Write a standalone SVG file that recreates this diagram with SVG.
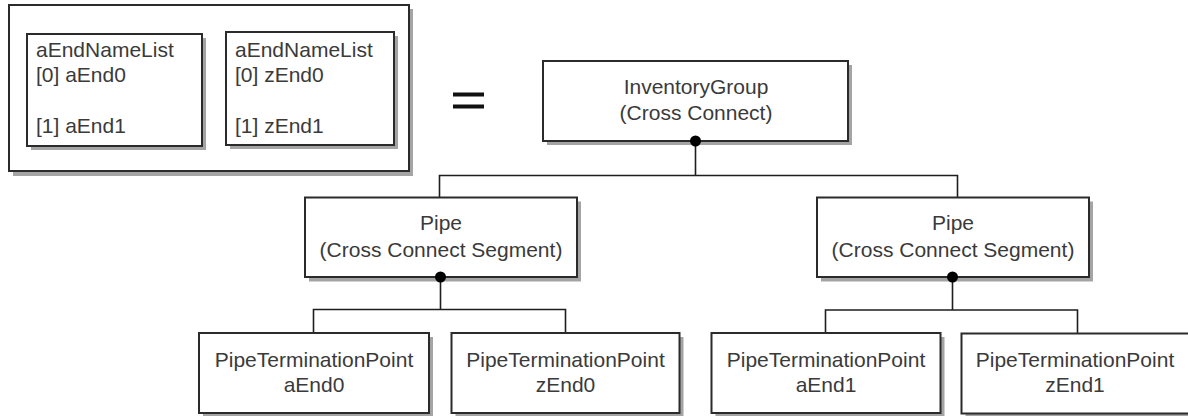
<svg xmlns="http://www.w3.org/2000/svg" width="1188" height="416" viewBox="0 0 1188 416">
  <style>
    .box { fill: #ffffff; stroke: #2b2b2b; stroke-width: 2; }
    .shadow { fill: #a4a4a4; }
    .lbl { font-family: "Liberation Sans", Arial, sans-serif; font-size: 21px; fill: #3a3a3a; }
    .mid { text-anchor: middle; }
    .wire { fill: none; stroke: #1e1e1e; stroke-width: 1.6; }
    .dot { fill: #000000; }
  </style>

  <rect x="0" y="0" width="1188" height="416" fill="#ffffff"/>

  <!-- name list legend -->
  <g id="legend">
    <rect class="shadow" x="13" y="9" width="400" height="167"/>
    <rect class="box" x="9" y="5" width="400" height="166"/>
    <g id="list-a">
      <rect class="shadow" x="31" y="38" width="175" height="112"/>
      <rect class="box" x="27" y="34" width="175" height="112"/>
      <text class="lbl" x="36" y="57">aEndNameList</text>
      <text class="lbl" x="36" y="82">[0] aEnd0</text>
      <text class="lbl" x="36" y="133">[1] aEnd1</text>
    </g>
    <g id="list-z">
      <rect class="shadow" x="230" y="36" width="168" height="113"/>
      <rect class="box" x="226" y="32" width="168" height="113"/>
      <text class="lbl" x="235" y="57">aEndNameList</text>
      <text class="lbl" x="235" y="82">[0] zEnd0</text>
      <text class="lbl" x="235" y="133">[1] zEnd1</text>
    </g>
  </g>

  <!-- equals sign -->
  <g id="equals" fill="#111111">
    <rect x="453" y="92.5" width="31" height="4"/>
    <rect x="453" y="104.5" width="31" height="4"/>
  </g>

  <!-- connectors -->
  <g id="connectors">
    <path class="wire" d="M695.5 141 V175.5 M439.5 197.5 V175.5 H957.5 V197.5"/>
    <path class="wire" d="M440.5 277 V309.5 M313.5 333 V309.5 H565.5 V333"/>
    <path class="wire" d="M952.5 277 V310 M825.5 333 V310 H1077.5 V333"/>
  </g>

  <g id="inventory-group">
    <rect class="shadow" x="547" y="65" width="305" height="80"/>
    <rect class="box" x="543" y="61" width="305" height="80"/>
    <text class="lbl mid" x="696" y="94">InventoryGroup</text>
    <text class="lbl mid" x="696" y="120">(Cross Connect)</text>
    <circle class="dot" cx="695.5" cy="141" r="5.5"/>
  </g>

  <g id="pipe-left">
    <rect class="shadow" x="309" y="201.5" width="272" height="80"/>
    <rect class="box" x="305" y="197.5" width="272" height="79.5"/>
    <text class="lbl mid" x="441" y="230">Pipe</text>
    <text class="lbl mid" x="441" y="257">(Cross Connect Segment)</text>
    <circle class="dot" cx="440.5" cy="277" r="5.5"/>
  </g>

  <g id="pipe-right">
    <rect class="shadow" x="821" y="201.5" width="272" height="80"/>
    <rect class="box" x="817" y="197.5" width="272" height="79.5"/>
    <text class="lbl mid" x="953" y="230">Pipe</text>
    <text class="lbl mid" x="953" y="257">(Cross Connect Segment)</text>
    <circle class="dot" cx="952.5" cy="277" r="5.5"/>
  </g>

  <g id="tp-a0">
    <rect class="shadow" x="203" y="337" width="230" height="80"/>
    <rect class="box" x="199" y="333" width="230" height="80"/>
    <text class="lbl mid" x="314" y="366.5">PipeTerminationPoint</text>
    <text class="lbl mid" x="314" y="392">aEnd0</text>
  </g>

  <g id="tp-z0">
    <rect class="shadow" x="455.5" y="337" width="228" height="80"/>
    <rect class="box" x="451.5" y="333" width="228" height="80"/>
    <text class="lbl mid" x="565.5" y="366.5">PipeTerminationPoint</text>
    <text class="lbl mid" x="565.5" y="392">zEnd0</text>
  </g>

  <g id="tp-a1">
    <rect class="shadow" x="715.5" y="337" width="229" height="80"/>
    <rect class="box" x="711.5" y="333" width="229" height="80"/>
    <text class="lbl mid" x="826" y="366.5">PipeTerminationPoint</text>
    <text class="lbl mid" x="826" y="392">aEnd1</text>
  </g>

  <g id="tp-z1">
    <rect class="shadow" x="965.5" y="337.5" width="232" height="80"/>
    <rect class="box" x="961.5" y="333.5" width="232" height="80"/>
    <text class="lbl mid" x="1075" y="366.5">PipeTerminationPoint</text>
    <text class="lbl mid" x="1075" y="392">zEnd1</text>
  </g>
</svg>
